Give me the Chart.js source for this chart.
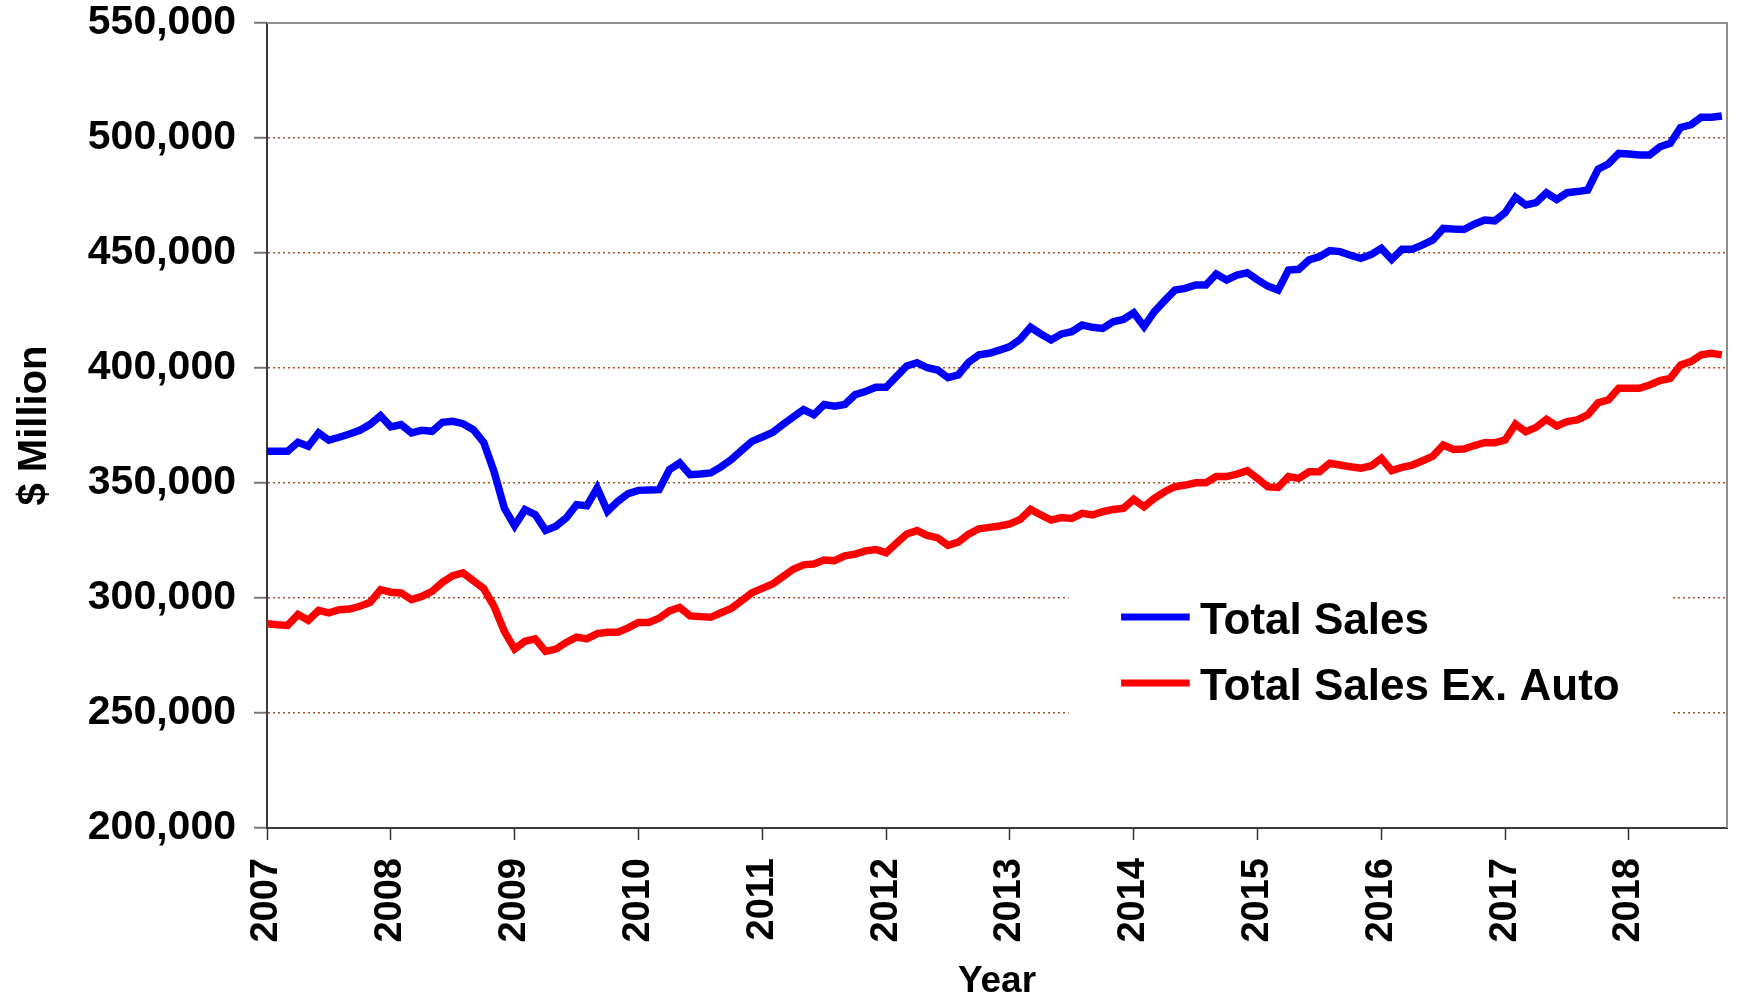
<!DOCTYPE html>
<html>
<head>
<meta charset="utf-8">
<script src="https://cdn.jsdelivr.net/npm/chart.js@4.4.0/dist/chart.umd.min.js"></script>
<style>
  html, body { margin: 0; padding: 0; background: #fff; }
</style>
</head>
<body>
<canvas id="chart" width="1739" height="998"></canvas>
<script>
// DATOS (ventas mensuales, $ millones, ene 2007 - oct 2018)
const years = ['2007', '2008', '2009', '2010', '2011', '2012', '2013', '2014', '2015', '2016', '2017', '2018'];

const totalSales = [
  363800, 363800, 363800, 367700, 366000, 371800, 368600, 369900, 371300, 372900, 375500, 379300,
  374400, 375400, 371800, 372900, 372500, 376400, 376800, 375800, 373200, 367700, 355000, 339100,
  331400, 338400, 336200, 329400, 331200, 334800, 340600, 340100, 347800, 337700, 342000, 345400,
  346800, 347000, 347100, 355800, 358700, 353600, 353900, 354400, 357000, 360200, 364200, 368100,
  370000, 372000, 375400, 378700, 381900, 379700, 384100, 383400, 384100, 388400, 389800, 391600,
  391600, 396200, 400900, 402300, 400100, 399100, 395800, 397000, 402500, 405700, 406400, 407800,
  409300, 412500, 417700, 414800, 412200, 414800, 415800, 418700, 417700, 417200, 420100, 421100,
  424000, 418000, 424500, 429300, 433900, 434600, 436100, 436100, 440900, 438300, 440400, 441400,
  438300, 435600, 433900, 442600, 442900, 447000, 448400, 451000, 450600, 449000, 447700, 449300,
  452000, 447200, 451600, 451600, 453500, 455700, 460700, 460400, 460200, 462500, 464300, 464000,
  467500, 474200, 470900, 471900, 476200, 473300, 476200, 476700, 477400, 486400, 488700, 493300,
  493000, 492600, 492600, 496200, 497700, 504600, 505700, 509000, 509000, 509600
];

const totalSalesExAuto = [
  288800, 288400, 288100, 292800, 290300, 294600, 293500, 294900, 295200, 296400, 298100, 303600,
  302500, 302200, 299300, 300700, 302900, 306800, 309700, 310900, 307500, 304100, 296400, 285500,
  277800, 281200, 282200, 276800, 277800, 280700, 283000, 282200, 284500, 285100, 285100, 287000,
  289400, 289400, 291200, 294400, 295900, 292200, 291900, 291600, 293600, 295500, 298800, 302300,
  304200, 306100, 309300, 312500, 314400, 314800, 316500, 316200, 318300, 319100, 320500, 321100,
  319700, 323800, 327800, 329300, 327200, 326100, 322900, 324300, 327800, 330100, 330700, 331300,
  332200, 334200, 338500, 336100, 333900, 335000, 334600, 336800, 336100, 337500, 338500, 339000,
  342900, 339700, 343300, 346200, 348400, 349100, 350100, 350100, 352800, 352800, 353900, 355400,
  352000, 348300, 348100, 352800, 352000, 354900, 354900, 358600, 357800, 357100, 356400, 357400,
  360700, 355400, 356800, 357800, 359700, 361700, 366500, 364600, 364800, 366300, 367500, 367500,
  368700, 375600, 372300, 374200, 377700, 374800, 376700, 377400, 379600, 384900, 386100, 391200,
  391200, 391200, 392600, 394500, 395500, 401300, 402800, 405700, 406400, 405700
];

const seriesLabels = ['Total Sales', 'Total Sales Ex. Auto'];
const seriesColors = ['#0000ff', '#ff0000'];

const yMin = 200000;
const yMax = 550000;
const yStep = 50000;

const FONT = "'Liberation Sans', Arial, Helvetica, sans-serif";

// indice de mes -> punto {x, y}
function toPoints(values) {
  return values.map((v, i) => ({ x: i, y: v }));
}

// MARCO SUPERIOR Y DERECHO (gris, como en Excel)
const framePlugin = {
  id: 'frame',
  beforeDatasetsDraw(chart) {
    const { ctx, chartArea: a } = chart;
    ctx.save();
    ctx.strokeStyle = '#8f8f8f';
    ctx.lineWidth = 2;
    ctx.beginPath();
    ctx.moveTo(a.left, a.top);
    ctx.lineTo(a.right, a.top);
    ctx.lineTo(a.right, a.bottom);
    ctx.stroke();
    ctx.restore();
  }
};

// LEYENDA DENTRO DEL AREA DEL GRAFICO
const legendBoxPlugin = {
  id: 'legendBox',
  afterDatasetsDraw(chart) {
    const { ctx, chartArea: a } = chart;
    const w = a.right - a.left;
    const h = a.bottom - a.top;
    const bx1 = a.left + w * 0.549, bx2 = a.left + w * 0.962;
    const by1 = a.top + h * 0.70, by2 = a.top + h * 0.875;
    ctx.save();
    ctx.fillStyle = '#fff';
    ctx.fillRect(bx1, by1, bx2 - bx1, by2 - by1);

    const lx1 = a.left + w * 0.585, lx2 = a.left + w * 0.632;
    const tx = a.left + w * 0.639;
    const rows = [a.top + h * 0.738, a.top + h * 0.820];
    chart.data.datasets.forEach((ds, k) => {
      const y = rows[k];
      ctx.strokeStyle = ds.borderColor;
      ctx.lineWidth = 7;
      ctx.beginPath();
      ctx.moveTo(lx1, y);
      ctx.lineTo(lx2, y);
      ctx.stroke();
      ctx.fillStyle = '#000';
      ctx.font = 'bold 44px ' + FONT;
      ctx.textBaseline = 'middle';
      ctx.textAlign = 'left';
      ctx.fillText(ds.label, tx, y + 5);
    });
    ctx.restore();
  }
};

const ctx = document.getElementById('chart').getContext('2d');
const chart = new Chart(ctx, {
  type: 'line',
  data: {
    datasets: [
      {
        label: seriesLabels[0],
        data: toPoints(totalSales),
        borderColor: seriesColors[0],
        borderWidth: 7.5,
        pointRadius: 0,
        tension: 0,
        fill: false
      },
      {
        label: seriesLabels[1],
        data: toPoints(totalSalesExAuto),
        borderColor: seriesColors[1],
        borderWidth: 7.5,
        pointRadius: 0,
        tension: 0,
        fill: false
      }
    ]
  },
  options: {
    responsive: false,
    animation: false,
    devicePixelRatio: 1,
    layout: { padding: { top: 23, right: 12, left: 0, bottom: 0 } },
    plugins: {
      legend: { display: false },
      tooltip: { enabled: false }
    },
    scales: {
      x: {
        type: 'linear',
        min: 0,
        max: 141.5,
        afterBuildTicks: (scale) => {
          scale.ticks = years.map((_, k) => ({ value: k * 12 }));
        },
        afterFit: (scale) => {
          scale.height = 170;
          scale.paddingLeft = 0;
          scale.paddingRight = 0;
        },
        ticks: {
          autoSkip: false,
          minRotation: 90,
          maxRotation: 90,
          padding: 18,
          color: '#000',
          font: { family: FONT, size: 38, weight: 'bold' },
          callback: (value) => years[Math.round(value / 12)]
        },
        grid: {
          drawOnChartArea: false,
          tickLength: 12,
          tickColor: '#333',
          tickWidth: 1.5
        },
        border: { color: '#3a3a3a', width: 2 },
        title: {
          display: true,
          text: 'Year',
          color: '#000',
          padding: 0,
          font: { family: FONT, size: 37, weight: 'bold', lineHeight: 0.85 }
        }
      },
      y: {
        min: yMin,
        max: yMax,
        afterFit: (scale) => {
          scale.width = 267;
          scale.paddingTop = 0;
          scale.paddingBottom = 0;
        },
        ticks: {
          stepSize: yStep,
          padding: 18,
          color: '#000',
          font: { family: FONT, size: 41, weight: 'bold' },
          callback: (value) => value.toLocaleString('en-US')
        },
        grid: {
          color: (c) => (c.tick && c.tick.value > yMin && c.tick.value < yMax) ? '#a9522b' : 'rgba(0,0,0,0)',
          lineWidth: 1.5,
          tickLength: 13,
          tickColor: '#777',
          tickWidth: 2,
          tickBorderDash: []
        },
        border: { color: '#3a3a3a', width: 2, dash: [2, 3] },
        title: {
          display: true,
          text: '$ Million',
          color: '#000',
          padding: { top: 11, bottom: 0 },
          font: { family: FONT, size: 40, weight: 'bold' }
        }
      }
    }
  },
  plugins: [framePlugin, legendBoxPlugin]
});
</script>
</body>
</html>
